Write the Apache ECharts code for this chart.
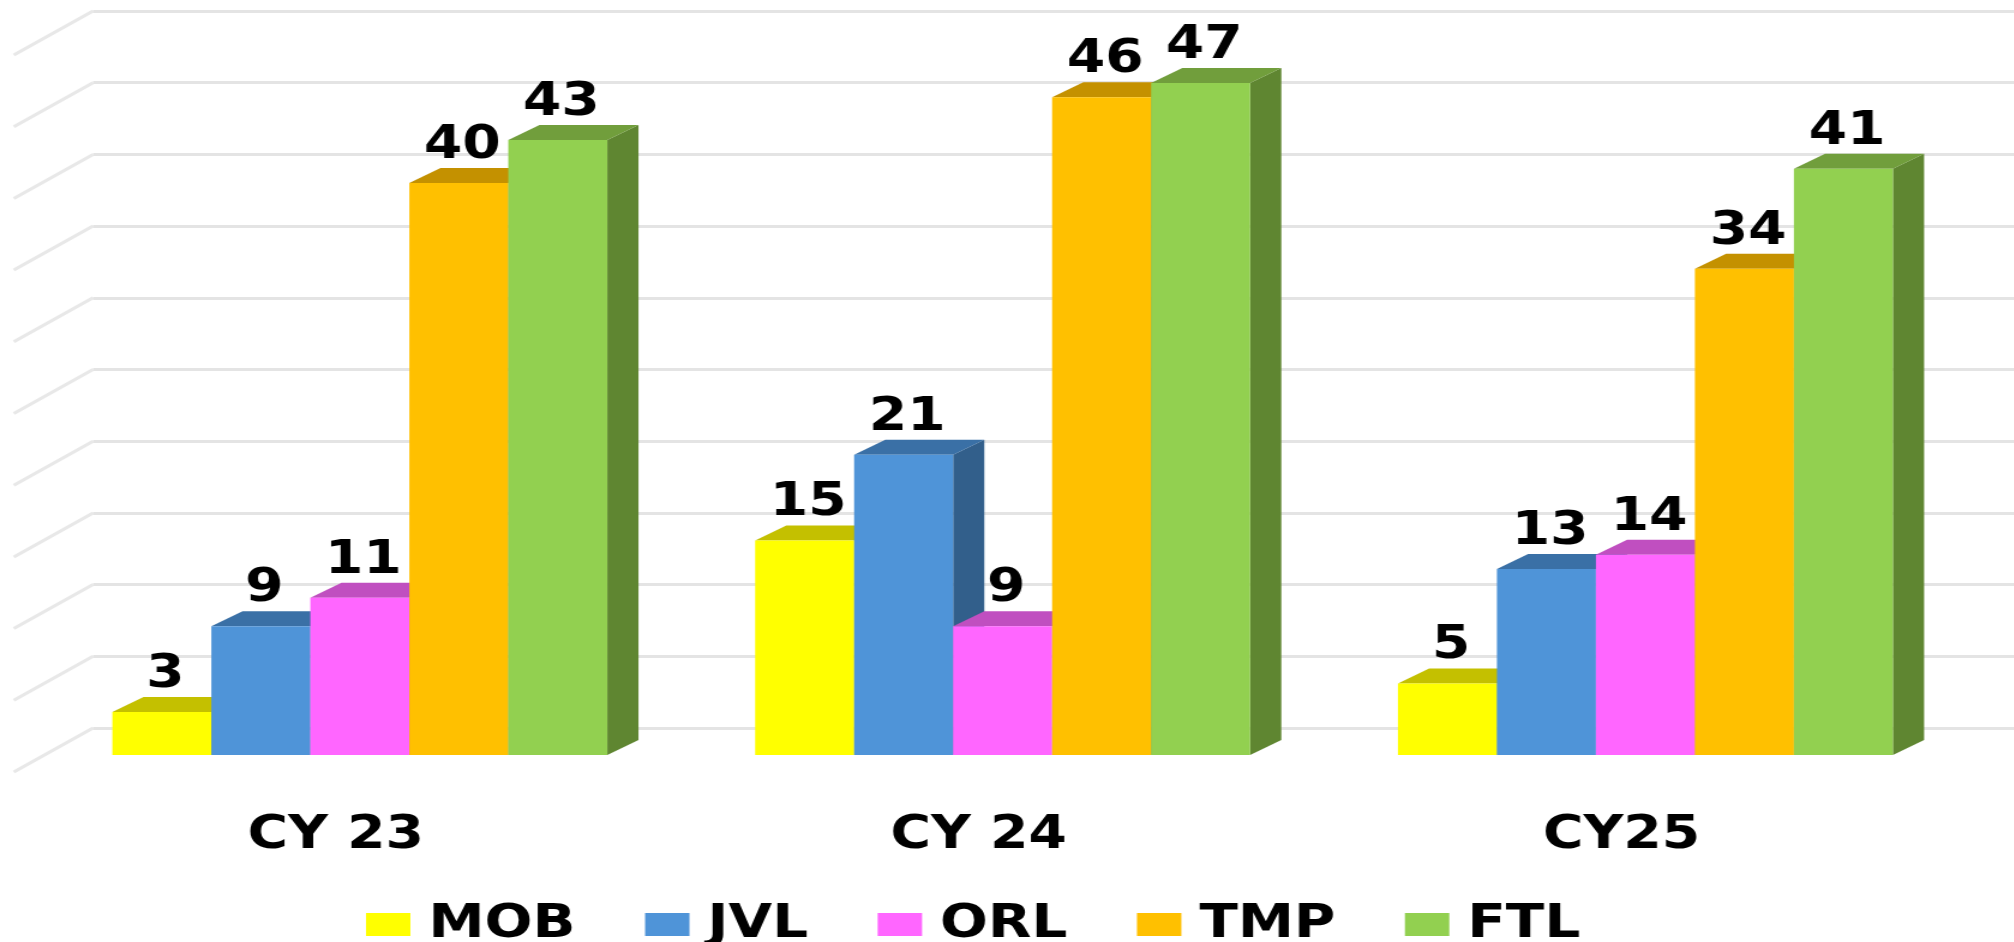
<!DOCTYPE html>
<html><head><meta charset="utf-8">
<script src="https://cdn.jsdelivr.net/npm/echarts@6/dist/echarts.min.js"></script>
<style>
html,body{margin:0;padding:0;background:#fff;overflow:hidden;width:2014px;height:942px}
#wrap{width:2014px;height:942px;overflow:hidden;position:relative}
#chart{width:1678px;height:942px;transform:scaleX(1.2);transform-origin:0 0}
</style>
</head><body><div id="wrap"><div id="chart"></div></div>
<script>
// ---- data ----
const categories = ['CY 23', 'CY 24', 'CY25'];
const seriesNames = ['MOB', 'JVL', 'ORL', 'TMP', 'FTL'];
const MOB = [3, 15, 5];
const JVL = [9, 21, 13];
const ORL = [11, 9, 14];
const TMP = [40, 46, 34];
const FTL = [43, 47, 41];
const yTicks = [0, 5, 10, 15, 20, 25, 30, 35, 40, 45, 50];

// ---- styles ----
const frontColors = ['#FFFF00', '#4F94D8', '#FF66FF', '#FFC000', '#92D050'];
const topColors   = ['#C4C000', '#3A70A6', '#C04FC0', '#C49100', '#719E3C'];
const sideColors  = ['#A8A500', '#325F8B', '#A43FA4', '#A87C00', '#5F8631'];
const seriesValues = [MOB, JVL, ORL, TMP, FTL];
const CAT_GAP = 0.23;
const DEPTH_X = 26, DEPTH_Y = 15;
const FONT = 'DejaVu Sans';

const chart = echarts.init(document.getElementById('chart'), null, {renderer: 'canvas'});

function make3D(sIdx) {
  return function (params, api) {
    const cat = api.value(0), val = api.value(1);
    const base = api.coord([cat, 0]);
    const top = api.coord([cat, val]);
    const band = api.size([1, 0])[0];
    const total = band * (1 - CAT_GAP);
    const bw = total / seriesNames.length;
    const x0 = base[0] - total / 2 + sIdx * bw;
    const x1 = x0 + bw;
    const ty = top[1], by = base[1];
    return {
      type: 'group',
      children: [
        {type: 'polygon', shape: {points: [[x1, ty], [x1 + DEPTH_X, ty - DEPTH_Y], [x1 + DEPTH_X, by - DEPTH_Y], [x1, by]]},
         style: {fill: sideColors[sIdx]}},
        {type: 'polygon', shape: {points: [[x0, ty], [x0 + DEPTH_X, ty - DEPTH_Y], [x1 + DEPTH_X, ty - DEPTH_Y], [x1, ty]]},
         style: {fill: topColors[sIdx]}}
      ]
    };
  };
}

const series = [];
// left wall diagonals, one per grid line
series.push({
  type: 'custom', name: 'wall', xAxisIndex: 1, yAxisIndex: 1, silent: true, z: 0,
  data: yTicks.map(v => [0, v]),
  renderItem: function (params, api) {
    const p = api.coord([0, api.value(1)]);
    return {type: 'line', shape: {x1: p[0] - 66, y1: p[1] + 44, x2: p[0], y2: p[1]},
            style: {stroke: '#E8E8E8', lineWidth: 3}};
  }
});
seriesNames.forEach((n, i) => {
  series.push({
    type: 'custom', name: n + ' depth', xAxisIndex: 0, yAxisIndex: 0, silent: true, z: 2,
    data: seriesValues[i].map((v, c) => [c, v]),
    renderItem: make3D(i)
  });
});
seriesNames.forEach((n, i) => {
  series.push({
    type: 'bar', name: n, xAxisIndex: 0, yAxisIndex: 0, z: 3,
    data: seriesValues[i],
    barGap: '0%', barCategoryGap: (CAT_GAP * 100) + '%',
    itemStyle: {color: frontColors[i]},
    label: {show: true, position: 'top', distance: 14, offset: [3, 0],
            fontSize: 46, fontWeight: 'bold', fontFamily: FONT, color: '#000'}
  });
});

chart.setOption({
  animation: false,
  backgroundColor: '#fff',
  grid: [
    {left: 32, right: 39, top: 40, bottom: 187},
    {left: 77.5, right: 0, top: 11, bottom: 214}
  ],
  xAxis: [
    {type: 'category', gridIndex: 0, data: categories,
     axisLine: {show: false}, axisTick: {show: false}, splitLine: {show: false},
     axisLabel: {margin: 58, fontSize: 46, fontWeight: 'bold', fontFamily: FONT, color: '#000', padding: [0, 40, 0, 0]}},
    {type: 'value', gridIndex: 1, min: 0, max: 1, show: false}
  ],
  yAxis: [
    {type: 'value', gridIndex: 0, min: 0, max: 50, interval: 5, show: false},
    {type: 'value', gridIndex: 1, min: 0, max: 50, interval: 5,
     axisLine: {show: false}, axisTick: {show: false}, axisLabel: {show: false},
     splitLine: {show: true, lineStyle: {color: '#E4E4E4', width: 3}}}
  ],
  legend: {
    data: seriesNames, left: 300, top: 896, icon: 'rect',
    itemWidth: 37, itemHeight: 23, itemGap: 58,
    textStyle: {fontSize: 47, fontWeight: 'bold', fontFamily: FONT, color: '#000', padding: [0, 0, 0, 10]}
  },
  series: series
});
</script>
</body></html>
